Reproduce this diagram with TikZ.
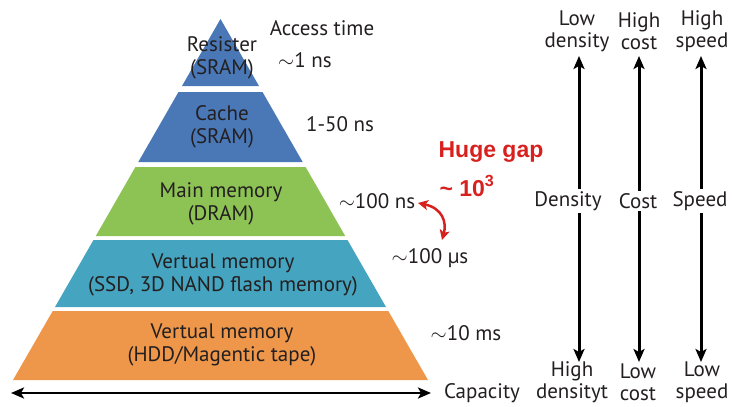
\documentclass[tikz,border=0pt]{standalone}
\usepackage{fontspec}
\setmainfont{PT Sans}
\newfontfamily\redfont{Liberation Sans}
\usetikzlibrary{arrows.meta}
\definecolor{cblue}{HTML}{4A78B7}
\definecolor{cgreen}{HTML}{8DC254}
\definecolor{cteal}{HTML}{45A4BF}
\definecolor{corange}{HTML}{EE974A}
\definecolor{cred}{HTML}{D7211F}
\definecolor{ctext}{HTML}{231F20}
\tikzset{
  txt/.style={font=\fontsize{21}{23}\selectfont, text=ctext, inner sep=1pt, align=center},
  coltxt/.style={font=\fontsize{21}{22}\selectfont, text=ctext, inner sep=1pt, align=center},
  redtxt/.style={font=\redfont\fontsize{23}{24}\selectfont\bfseries, text=cred, inner sep=1pt},
  bigarrow/.style={line width=3pt, {Stealth[length=13pt,width=11pt,inset=3pt]}-{Stealth[length=13pt,width=11pt,inset=3pt]}},
  caparrow/.style={line width=2.5pt, {Stealth[length=13pt,width=11pt,inset=3pt]}-{Stealth[length=13pt,width=11pt,inset=3pt]}},
  redarrow/.style={line width=2.5pt, draw=cred, {Stealth[length=10pt,width=10pt,inset=2.5pt]}-{Stealth[length=10pt,width=10pt,inset=2.5pt]}},
  whitebg/.style={fill=white, inner sep=2pt}
}
\begin{document}
\begin{tikzpicture}[x=1pt,y=-1pt]
\useasboundingbox (0,0) rectangle (732,407);
% pyramid layers
\fill[cblue] (220.5,19) -- (259,86) -- (182,86) -- cycle;
\fill[cblue] (178.5,92) -- (262.5,92) -- (302.7,162) -- (138.3,162) -- cycle;
\fill[cgreen] (135.4,167) -- (305.6,167) -- (345.2,236) -- (95.8,236) -- cycle;
\fill[cteal] (93.5,240) -- (347.5,240) -- (386,307) -- (55,307) -- cycle;
\fill[corange] (52.7,311) -- (388.3,311) -- (428,380) -- (13,380) -- cycle;
% layer labels
\node[txt] (l1) at (222,58) {Resister\\(SRAM)};
\node[txt] (l2) at (222,127) {Cache\\(SRAM)};
\node[txt] (l3) at (221,204) {Main memory\\(DRAM)};
\node[txt] (l4) at (223,275) {Vertual memory\\(SSD, 3D NAND flash memory)};
\node[txt] (l5) at (222,345) {Vertual memory\\(HDD/Magentic tape)};
% access times
\node[txt] (acc) at (322,28) {Access time};
\node[txt] (t1) at (305,60) {$\sim$1 ns};
\node[txt] (t2) at (340,124) {1-50 ns};
\node[txt] (t3) at (377,201) {$\sim$100 ns};
\node[txt] (t4) at (430,258) {$\sim$100 µs};
\node[txt] (t5) at (466,333) {$\sim$10 ms};
% huge gap
\node[redtxt] (hg) at (491,152) {Huge gap};
\node[redtxt] (hg2) at (467,186) {\char"7E{} 10\textsuperscript{3}};
\coordinate (ra) at (418,203);
\coordinate (rb) at (442,240);
\draw[redarrow] (ra) .. controls (442,208) and (447,222) .. (rb);
% capacity
\node[txt] (cap) at (482,393) {Capacity};
\coordinate (capL) at (11,393);
\coordinate (capR) at (431,393);
\draw[caparrow] (capL) -- (capR);
% right columns
\node[coltxt] (dtop) at (577,31) {Low\\density};
\node[coltxt] (ctop) at (639,31) {High\\cost};
\node[coltxt] (stop) at (702,31) {High\\speed};
\node[coltxt] (dbot) at (572,382) {High\\densityt};
\node[coltxt] (cbot) at (638,382) {Low\\cost};
\node[coltxt] (sbot) at (702,382) {Low\\speed};
\coordinate (d1) at (579,56);
\coordinate (d2) at (579,362);
\coordinate (c1) at (639,56);
\coordinate (c2) at (639,362);
\coordinate (s1) at (701,56);
\coordinate (s2) at (701,362);
\draw[bigarrow] (d1) -- (d2);
\draw[bigarrow] (c1) -- (c2);
\draw[bigarrow] (s1) -- (s2);
\node[coltxt,whitebg] (dm) at (568,201) {Density};
\node[coltxt,whitebg] (cm) at (638,201) {Cost};
\node[coltxt,whitebg] (sm) at (700,201) {Speed};
\end{tikzpicture}
\end{document}
